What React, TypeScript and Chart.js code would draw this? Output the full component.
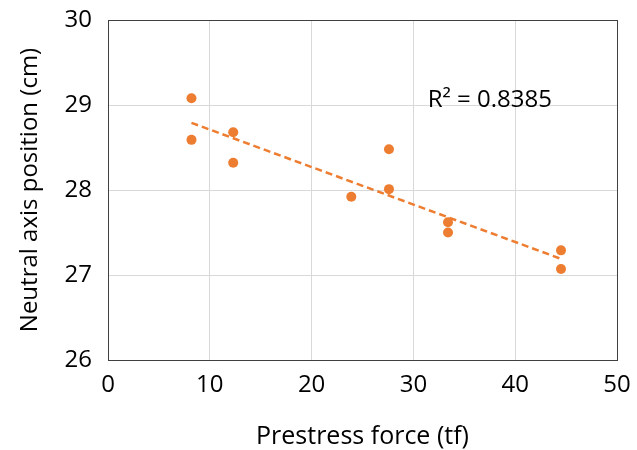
import React, { useEffect, useRef } from "react";
import { Chart, registerables } from "chart.js";

Chart.register(...registerables);

const forceX = [8.2, 8.2, 12.3, 12.3, 23.9, 27.6, 27.6, 33.4, 33.4, 44.5, 44.5];
const axisY = [29.08, 28.59, 28.68, 28.32, 27.92, 28.48, 28.01, 27.62, 27.5, 27.29, 27.07];
const trendX = [8.2, 44.5];
const trendY = [28.79, 27.19];
const r2Label = "R² = 0.8385";
const r2Pos = [31.4, 29.06];

const ORANGE = "#ED7D31";
const FONT = "'Open Sans', 'Noto Sans', sans-serif";

function zeroPad(s: any) {
  s.paddingTop = 0;
  s.paddingBottom = 0;
  s.paddingLeft = 0;
  s.paddingRight = 0;
}

export default function App() {
  const ref = useRef<HTMLCanvasElement>(null);
  useEffect(() => {
    document.body.style.margin = "0";
    const canvas = ref.current!;
    const framePlugin = {
      id: "frame",
      afterDraw(chart: any) {
        const { ctx, chartArea: a, scales } = chart;
        ctx.save();
        ctx.strokeStyle = "#404040";
        ctx.lineWidth = 1;
        ctx.strokeRect(Math.round(a.left) + 0.5, Math.round(a.top) + 0.5, Math.round(a.right - a.left), Math.round(a.bottom - a.top));
        ctx.fillStyle = "#000";
        ctx.font = "24px " + FONT;
        ctx.textAlign = "left";
        ctx.textBaseline = "middle";
        ctx.fillText(r2Label, scales.x.getPixelForValue(r2Pos[0]), scales.y.getPixelForValue(r2Pos[1]));
        ctx.restore();
      },
    };
    const chart = new Chart(canvas, {
      type: "scatter",
      data: {
        datasets: [
          {
            data: forceX.map((x, i) => ({ x, y: axisY[i] })),
            backgroundColor: ORANGE,
            borderColor: ORANGE,
            pointRadius: 5,
            pointBorderWidth: 0,
            order: 1,
          },
          {
            type: "line",
            data: trendX.map((x, i) => ({ x, y: trendY[i] })),
            borderColor: ORANGE,
            borderWidth: 2.5,
            borderDash: [7, 4],
            pointRadius: 0,
            fill: false,
            order: 2,
          } as any,
        ],
      },
      options: {
        animation: false,
        responsive: false,
        devicePixelRatio: 1,
        layout: { padding: { left: 0, right: 20, top: 20, bottom: 0 } },
        plugins: { legend: { display: false }, tooltip: { enabled: false } },
        scales: {
          x: {
            type: "linear",
            min: 0,
            max: 50,
            ticks: { stepSize: 10, color: "#000", font: { family: FONT, size: 24 }, padding: 11, maxRotation: 0 },
            grid: { color: "#d9d9d9", drawTicks: false },
            border: { display: false },
            title: { display: true, text: "Prestress force (tf)", color: "#000", font: { family: FONT, size: 25 }, padding: { top: 0, bottom: -2 } },
            afterFit(s: any) { s.height = 90; zeroPad(s); },
          },
          y: {
            type: "linear",
            min: 26,
            max: 30,
            ticks: { stepSize: 1, color: "#000", font: { family: FONT, size: 24 }, padding: 16 },
            grid: { color: "#d9d9d9", drawTicks: false },
            border: { display: false },
            title: { display: true, text: "Neutral axis position (cm)", color: "#000", font: { family: FONT, size: 24 }, padding: { top: 16, bottom: 0 } },
            afterFit(s: any) { s.width = 108; zeroPad(s); },
          },
        },
      },
      plugins: [framePlugin],
    });
    return () => chart.destroy();
  }, []);
  return <canvas ref={ref} width={637} height={450} style={{ display: "block" }} />;
}
